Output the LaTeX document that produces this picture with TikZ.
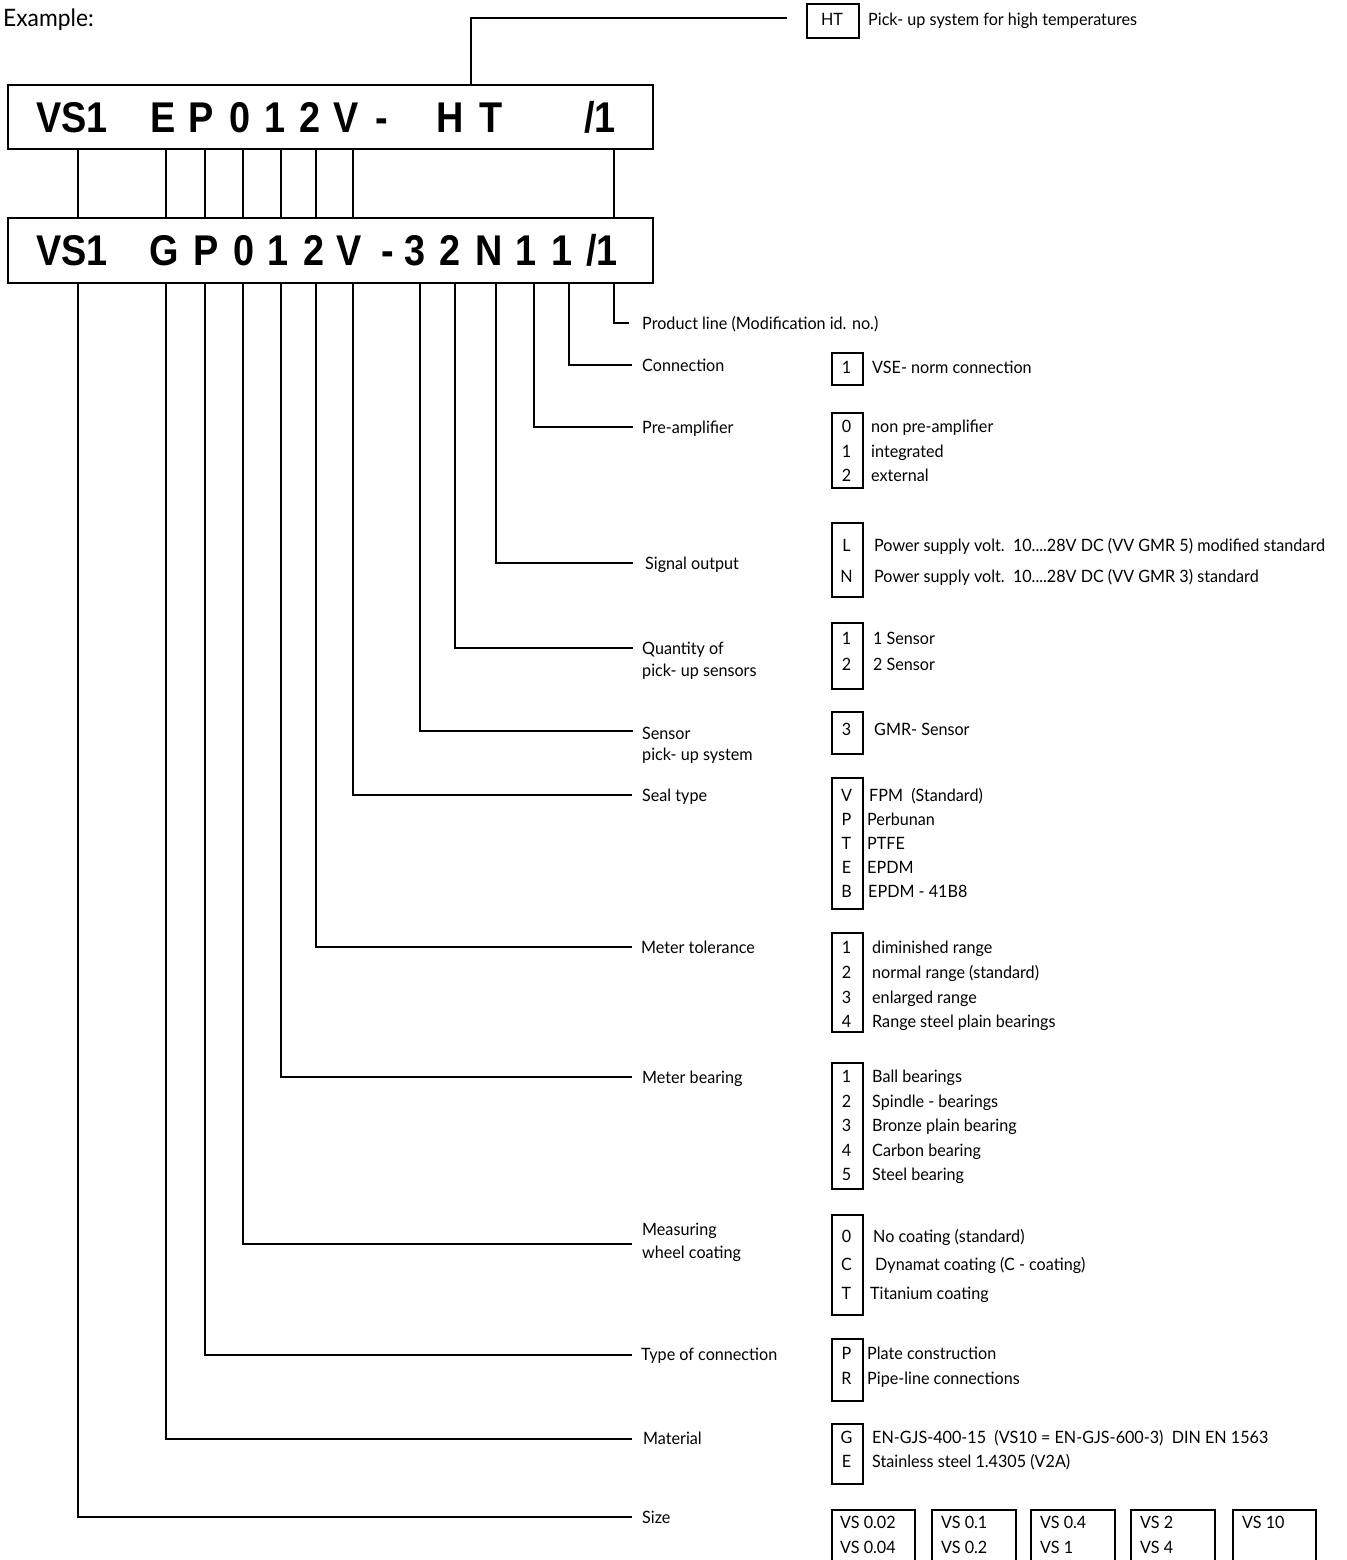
\documentclass[tikz,border=0pt]{standalone}
\usepackage{fontspec}
\setmainfont{Lato}[FakeStretch=0.95]
\newfontfamily\barfont{Liberation Sans}[FakeStretch=0.88]
\newcommand\krow[5]{%
  \node[kcode] (#1c) at (846.5,#2+6) {#3};
  \node[ktext] (#1t) at (#5,#2+6) {#4};}
\begin{document}
\begin{tikzpicture}[x=1pt,y=-1pt,
  ln/.style={line width=1.6pt},
  bar/.style={draw, line width=1.8pt, inner sep=0pt, anchor=north west},
  bchar/.style={anchor=base, inner sep=0pt, font=\barfont\bfseries\fontsize{43}{43}\selectfont},
  lab/.style={anchor=base west, inner sep=0pt, font=\fontsize{17}{21}\selectfont},
  kbox/.style={draw, line width=1.6pt, inner sep=0pt, anchor=north west, minimum width=31pt},
  kcode/.style={anchor=base, inner sep=0pt, font=\fontsize{17}{21}\selectfont},
  ktext/.style={anchor=base west, inner sep=0pt, font=\fontsize{17}{21}\selectfont},
]
\clip (0,0) rectangle (1346,1560);
\fill[white] (0,0) rectangle (1346,1560);

\node[anchor=base west, inner sep=0pt, font=\fontsize{24}{27}\selectfont] (ex) at (3,27) {Example:};

% bars
\node[bar, minimum width=645pt, minimum height=64pt] (bar1) at (7,84) {};
\node[bar, minimum width=645pt, minimum height=65pt] (bar2) at (7,217) {};

% top bar characters
\node[bchar] (a1) at (72,132) {VS1};
\node[bchar] (a2) at (163,132) {E};
\node[bchar] (a3) at (201,132) {P};
\node[bchar] (a4) at (240,132) {0};
\node[bchar] (a5) at (275,132) {1};
\node[bchar] (a6) at (310,132) {2};
\node[bchar] (a7) at (346,132) {V};
\node[bchar] (a8) at (382,132) {-};
\node[bchar] (a9) at (450,132) {H};
\node[bchar] (a10) at (491,132) {T};
\node[bchar] (a11) at (600,132) {/1};

% lower bar characters
\node[bchar] (b1) at (72,265) {VS1};
\node[bchar] (b2) at (164,265) {G};
\node[bchar] (b3) at (206,265) {P};
\node[bchar] (b4) at (244,265) {0};
\node[bchar] (b5) at (278,265) {1};
\node[bchar] (b6) at (314,265) {2};
\node[bchar] (b7) at (349,265) {V};
\node[bchar] (b8) at (388,265) {-};
\node[bchar] (b9) at (415,265) {3};
\node[bchar] (b10) at (450,265) {2};
\node[bchar] (b11) at (489,265) {N};
\node[bchar] (b12) at (526,265) {1};
\node[bchar] (b13) at (562,265) {1};
\node[bchar] (b14) at (602,265) {/1};

% x positions of the connector lines
\coordinate (x1) at (78,0);
\coordinate (x2) at (166,0);
\coordinate (x3) at (205,0);
\coordinate (x4) at (243,0);
\coordinate (x5) at (281,0);
\coordinate (x6) at (316,0);
\coordinate (x7) at (353,0);
\coordinate (x9) at (420,0);
\coordinate (x10) at (455,0);
\coordinate (x11) at (496,0);
\coordinate (x12) at (534,0);
\coordinate (x13) at (569,0);
\coordinate (x14) at (614,0);
\coordinate (xht) at (471,0);

% between bars
\foreach \c in {x1,x2,x3,x4,x5,x6,x7,x14}
  \draw[ln] (\c |- bar1.south) -- (\c |- bar2.north);

% HT
\coordinate (e-ht) at (787,18);
\draw[ln] (xht |- bar1.north) |- (e-ht);
\node[kbox, minimum width=52pt, minimum height=34pt] (k-ht) at (806,3) {};
\node[kcode] (k-htc) at (832,26) {HT};
\node[ktext] (k-htt) at (868,26) {Pick- up system for high temperatures};

% label end points
\coordinate (e14) at (629,323);
\coordinate (e13) at (632,365);
\coordinate (e12) at (633,427);
\coordinate (e11) at (633,563);
\coordinate (e10) at (633,648);
\coordinate (e9) at (633,731);
\coordinate (e7) at (632,795);
\coordinate (e6) at (632,947);
\coordinate (e5) at (632,1077);
\coordinate (e4) at (632,1244);
\coordinate (e3) at (632,1355);
\coordinate (e2) at (632,1439);
\coordinate (e1) at (632,1517);

\foreach \i in {1,2,3,4,5,6,7,9,10,11,12,13,14}
  \draw[ln] (x\i |- bar2.south) |- (e\i);

% labels
\node[lab] (l14) at (642,329) {Product line (Modification id. no.)};
\node[lab] (l13) at (642,371) {Connection};
\node[lab] (l12) at (642,433) {Pre-amplifier};
\node[lab] (l11) at (645,569) {Signal output};
\node[lab] (l10a) at (642,654) {Quantity of};
\node[lab] (l10b) at (642,676) {pick- up sensors};
\node[lab] (l9a) at (642,739) {Sensor};
\node[lab] (l9b) at (642,760) {pick- up system};
\node[lab] (l7) at (642,801) {Seal type};
\node[lab] (l6) at (641,953) {Meter tolerance};
\node[lab] (l5) at (642,1083) {Meter bearing};
\node[lab] (l4a) at (642,1235) {Measuring};
\node[lab] (l4b) at (642,1258) {wheel coating};
\node[lab] (l3) at (641,1360) {Type of connection};
\node[lab] (l2) at (643,1444) {Material};
\node[lab] (l1) at (642,1523) {Size};

% key boxes
\node[kbox, minimum height=32pt] (k13) at (831,352) {};
\krow{r13a}{367}{1}{VSE- norm connection}{872}

\node[kbox, minimum height=75pt] (k12) at (831,412) {};
\krow{r12a}{426}{0}{non pre-amplifier}{871}
\krow{r12b}{451}{1}{integrated}{871}
\krow{r12c}{475}{2}{external}{871}

\node[kbox, minimum height=74pt] (k11) at (831,522) {};
\krow{r11a}{545}{L}{Power supply volt.\ \ 10....28V DC (VV GMR 5) modified standard}{874}
\krow{r11b}{576}{N}{Power supply volt.\ \ 10....28V DC (VV GMR 3) standard}{874}

\node[kbox, minimum height=66pt] (k10) at (831,622) {};
\krow{r10a}{638}{1}{1 Sensor}{873}
\krow{r10b}{664}{2}{2 Sensor}{873}

\node[kbox, minimum height=42pt] (k9) at (831,711) {};
\krow{r9a}{729}{3}{GMR- Sensor}{874}

\node[kbox, minimum height=131pt] (k7) at (831,777) {};
\krow{r7a}{795}{V}{FPM\ \ (Standard)}{869}
\krow{r7b}{819}{P}{Perbunan}{867}
\krow{r7c}{843}{T}{PTFE}{867}
\krow{r7d}{867}{E}{EPDM}{867}
\krow{r7e}{891}{B}{EPDM - 41B8}{868}

\node[kbox, minimum height=99pt] (k6) at (831,932) {};
\krow{r6a}{947}{1}{diminished range}{872}
\krow{r6b}{972}{2}{normal range (standard)}{872}
\krow{r6c}{997}{3}{enlarged range}{872}
\krow{r6d}{1021}{4}{Range steel plain bearings}{872}

\node[kbox, minimum height=126pt] (k5) at (831,1062) {};
\krow{r5a}{1076}{1}{Ball bearings}{872}
\krow{r5b}{1101}{2}{Spindle - bearings}{872}
\krow{r5c}{1125}{3}{Bronze plain bearing}{872}
\krow{r5d}{1150}{4}{Carbon bearing}{872}
\krow{r5e}{1174}{5}{Steel bearing}{872}

\node[kbox, minimum height=100pt] (k4) at (831,1214) {};
\krow{r4a}{1236}{0}{No coating (standard)}{873}
\krow{r4b}{1264}{C}{Dynamat coating (C - coating)}{875}
\krow{r4c}{1293}{T}{Titanium coating}{870}

\node[kbox, minimum height=62pt] (k3) at (831,1338) {};
\krow{r3a}{1353}{P}{Plate construction}{867}
\krow{r3b}{1378}{R}{Pipe-line connections}{867}

\node[kbox, minimum height=60pt] (k2) at (831,1423) {};
\krow{r2a}{1437}{G}{EN-GJS-400-15\ \ (VS10 = EN-GJS-600-3)\ \ DIN EN 1563}{872}
\krow{r2b}{1461}{E}{Stainless steel 1.4305 (V2A)}{872}

% size boxes (open below the picture edge)
\node[kbox, minimum width=83pt, minimum height=100pt] (s1) at (831,1509) {};
\node[kbox, minimum width=84pt, minimum height=100pt] (s2) at (931,1509) {};
\node[kbox, minimum width=84pt, minimum height=100pt] (s3) at (1030,1509) {};
\node[kbox, minimum width=84pt, minimum height=100pt] (s4) at (1130,1509) {};
\node[kbox, minimum width=83pt, minimum height=100pt] (s5) at (1232,1509) {};
\node[ktext] (s1a) at (840,1528) {VS 0.02};
\node[ktext] (s1b) at (840,1553) {VS 0.04};
\node[ktext] (s2a) at (941,1528) {VS 0.1};
\node[ktext] (s2b) at (941,1553) {VS 0.2};
\node[ktext] (s3a) at (1040,1528) {VS 0.4};
\node[ktext] (s3b) at (1040,1553) {VS 1};
\node[ktext] (s4a) at (1140,1528) {VS 2};
\node[ktext] (s4b) at (1140,1553) {VS 4};
\node[ktext] (s5a) at (1242,1528) {VS 10};
\end{tikzpicture}
\end{document}
